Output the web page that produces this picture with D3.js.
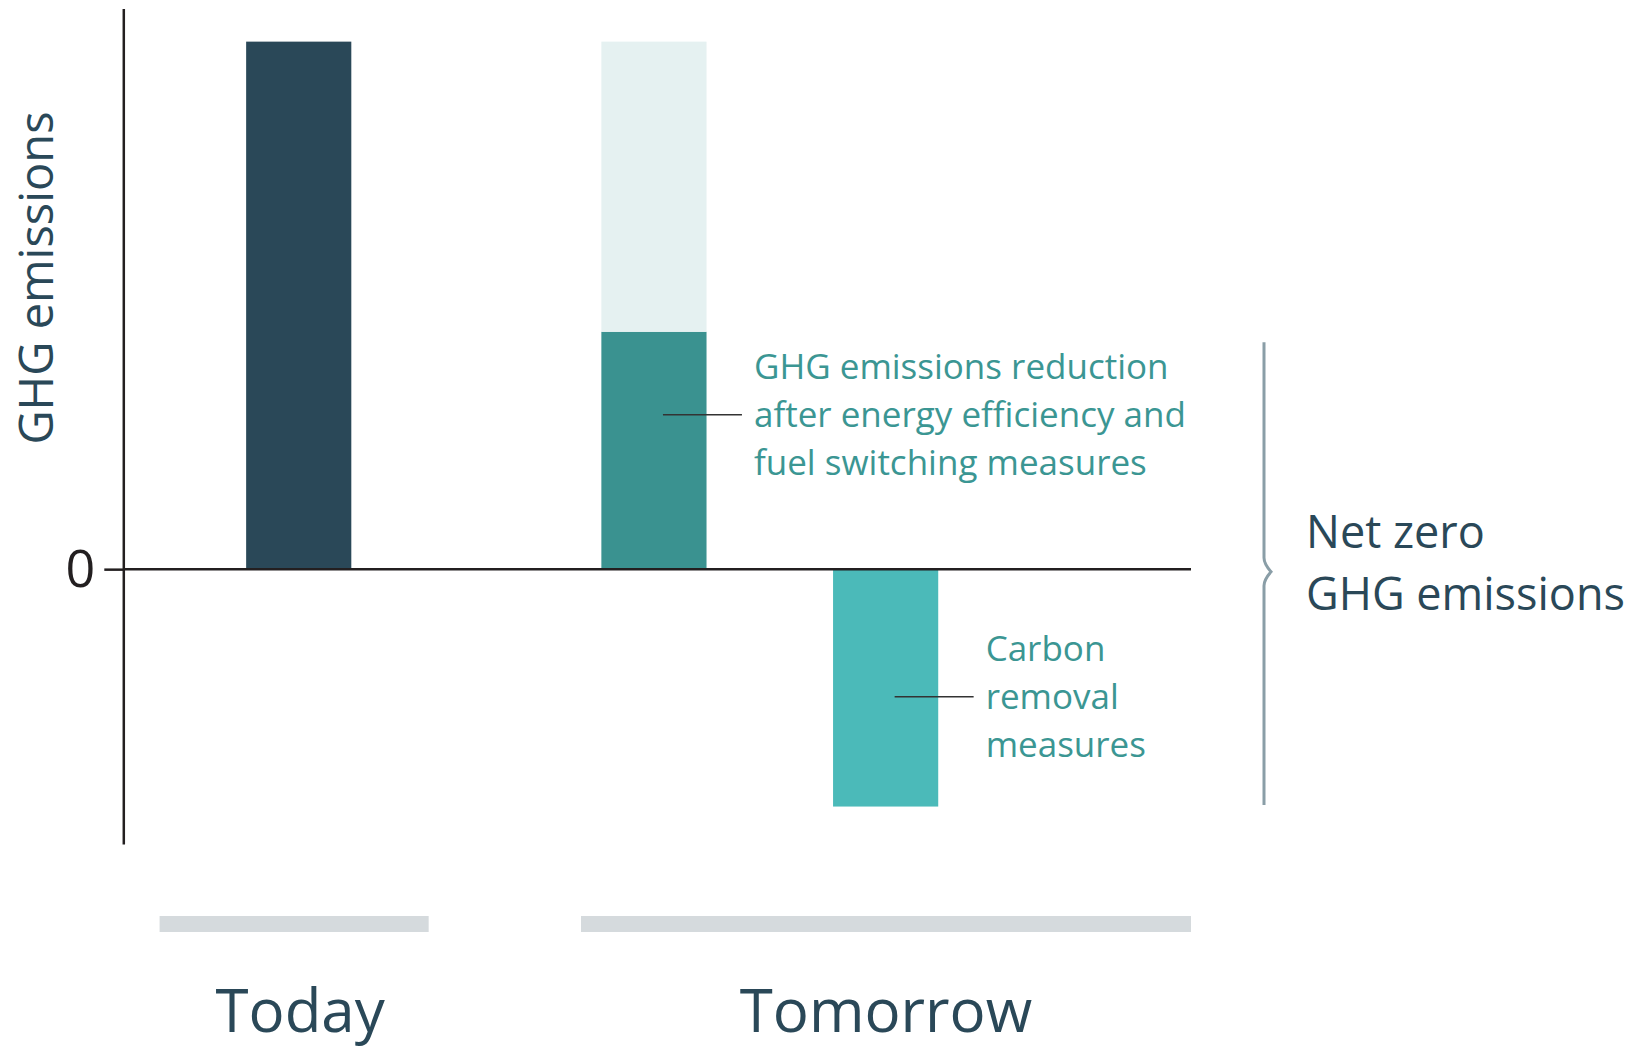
<!DOCTYPE html>
<html>
<head>
<meta charset="utf-8">
<script src="https://cdn.jsdelivr.net/npm/d3@7.9.0/dist/d3.min.js"></script>
<style>
  html, body { margin: 0; padding: 0; background: #fff; }
  svg { display: block; font-family: "Open Sans", "Noto Sans", sans-serif; }
</style>
</head>
<body>
<svg id="viz" width="1638" height="1047"></svg>
<script>
// Data
const bars = ["Today", "Tomorrow", "Removal"];
const stacks = {
  Today: [{ key: "today", v0: 0, v1: 100 }],
  Tomorrow: [
    { key: "residual", v0: 0, v1: 45 },
    { key: "reduced", v0: 45, v1: 100 },
  ],
  Removal: [{ key: "removal", v0: -45, v1: 0 }],
};
const groups = ["Today", "Tomorrow"];
const yTicks = [0];
const yLabel = "GHG emissions";
const noteReduction = ["GHG emissions reduction", "after energy efficiency and", "fuel switching measures"];
const noteRemoval = ["Carbon", "removal", "measures"];
const netZero = ["Net zero", "GHG emissions"];

// Colors
const fills = {
  today: "#2a4858",
  reduced: "#e5f1f1",
  residual: "#3a9290",
  removal: "#4bbab9",
};
const teal = "#3b9693";
const navy = "#2a4858";

const svg = d3.select("#viz");

// Scales
const y = d3.scaleLinear().domain([-52.1, 106.3]).range([844, 8.4]);
const x = d3.scaleLinear().domain([0, 1]).range([123.3, 1191]);
const barCenter = { Today: 0.1643, Tomorrow: 0.497, Removal: 0.714 };
const barW = x(0.0985) - x(0);
const groupSpan = { Today: [0.034, 0.286], Tomorrow: [0.4287, 1.0] };

// Bars
bars.forEach((b) => {
  svg.append("g")
    .selectAll("rect")
    .data(stacks[b])
    .join("rect")
    .attr("x", x(barCenter[b]) - barW / 2)
    .attr("width", barW)
    .attr("y", (d) => y(d.v1))
    .attr("height", (d) => y(d.v0) - y(d.v1))
    .attr("fill", (d) => fills[d.key]);
});

// Axis
const axis = svg.append("g")
  .attr("transform", `translate(${x(0)},0)`)
  .call(d3.axisLeft(y).tickValues(yTicks).tickSizeInner(19).tickSizeOuter(0).tickPadding(9));
axis.select(".domain").attr("stroke", "#231f20").attr("stroke-width", 2.5);
axis.selectAll(".tick line").attr("stroke", "#231f20").attr("stroke-width", 2.5);
axis.selectAll(".tick text")
  .attr("font-size", 52)
  .attr("fill", "#231f20")
  .attr("dy", "0.34em")
  .style("font-family", "Open Sans");

// Zero line
svg.append("line")
  .attr("x1", x(0)).attr("x2", x(1))
  .attr("y1", y(0)).attr("y2", y(0))
  .attr("stroke", "#231f20").attr("stroke-width", 2.5);

// Y label
svg.append("text")
  .attr("transform", `translate(53,${278}) rotate(-90)`)
  .attr("text-anchor", "middle")
  .attr("font-size", 47)
  .attr("fill", navy)
  .text(yLabel);

// Annotations
function note(lines, barKey, frac) {
  const s = stacks[barKey].find((d) => d.key !== "reduced");
  const ly = y(s.v0 + (s.v1 - s.v0) * frac);
  const x0 = x(barCenter[barKey]) + 9;
  svg.append("line")
    .attr("x1", x0).attr("x2", x0 + 79)
    .attr("y1", ly).attr("y2", ly)
    .attr("stroke", "#333").attr("stroke-width", 1.5);
  svg.append("text")
    .attr("font-size", 35)
    .attr("fill", teal)
    .selectAll("tspan")
    .data(lines)
    .join("tspan")
    .attr("x", x0 + 91)
    .attr("y", (_, i) => ly - 35.5 + i * 48)
    .text((d) => d);
}
note(noteReduction, "Tomorrow", 0.65);
note(noteRemoval, "Removal", 0.462);

// Brace
const bx = 1264;
const by0 = y(0) - 227, by1 = y(-44.7), bm = y(-0.5);
svg.append("path")
  .attr("d", `M${bx},${by0} V${bm - 14} Q${bx},${bm - 8} ${bx + 7},${bm} Q${bx},${bm + 8} ${bx},${bm + 14} V${by1}`)
  .attr("fill", "none")
  .attr("stroke", "#8a9ea7")
  .attr("stroke-width", 3);

svg.append("text")
  .attr("font-size", 45)
  .attr("fill", navy)
  .selectAll("tspan")
  .data(netZero)
  .join("tspan")
  .attr("x", 1306)
  .attr("y", (_, i) => 548 + i * 62)
  .text((d) => d);

// Group bars + labels
groups.forEach((g) => {
  const [a, b] = groupSpan[g];
  svg.append("rect")
    .attr("x", x(a)).attr("width", x(b) - x(a))
    .attr("y", 916).attr("height", 16)
    .attr("fill", "#d5dadd");
  svg.append("text")
    .attr("x", (x(a) + x(b)) / 2 + (g === "Today" ? 6 : 0))
    .attr("y", 1032)
    .attr("text-anchor", "middle")
    .attr("font-size", 60)
    .attr("fill", navy)
    .text(g);
});
</script>
</body>
</html>
